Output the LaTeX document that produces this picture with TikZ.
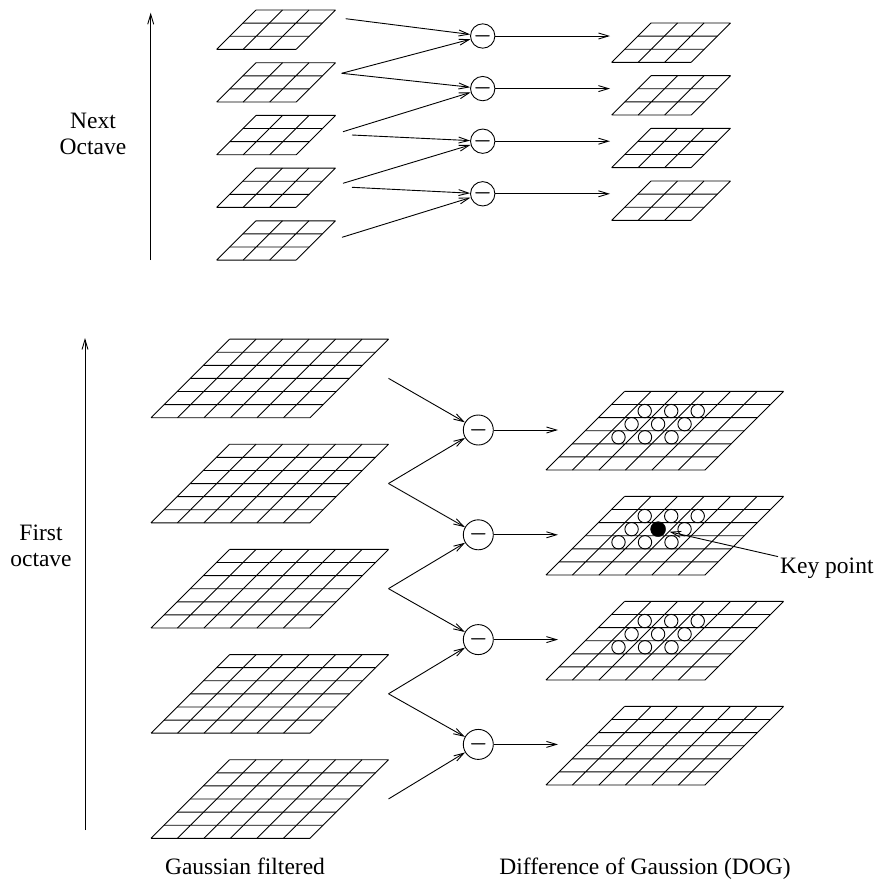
\documentclass[tikz,border=0pt]{standalone}
\usepackage{fontspec}
\setmainfont{Liberation Serif}
\usetikzlibrary{arrows.meta, positioning}
\tikzset{
  sift/line/.style={line width=0.9pt, draw=black},
  sift/arr/.style={-{Straight Barb[length=10pt,width=6pt]}, line width=0.9pt},
  sift/op/.style={circle, draw, line width=0.9pt, inner sep=0pt,
    minimum size=30pt, font=\fontsize{20}{20}\selectfont\boldmath},
  sift/opS/.style={sift/op, minimum size=20pt},
  sift/key/.style={circle, draw, fill=black, inner sep=0pt, minimum size=15pt},
  sift/ring/.style={line width=0.9pt},
  sift/lbl/.style={font=\fontsize{23.5}{26}\selectfont, align=center, inner sep=2pt},
  sift/cell/.style={x={(26.5pt,0pt)}, y={(13.1pt,13.1pt)}},
  pics/sift grid/.style={code={
    \begin{scope}[sift/cell]
      \foreach \k in {0,...,#1}
        \draw[sift/line] (\k,0) -- (\k,#1) (0,\k) -- (#1,\k);
    \end{scope}}}
}

\begin{document}
\begin{tikzpicture}[x=1pt, y=-1pt]
  \useasboundingbox (0,0) rectangle (881,879);

  % next octave
  \foreach \k in {0,...,4} \pic at (216.7, 49.3+52.7*\k) {sift grid=3};
  \foreach \k in {0,...,3} \pic at (611.7, 62.3+52.67*\k) {sift grid=3};
  \node[sift/opS] at (482.7, 36.0)  (n1) {$-$};
  \node[sift/opS] at (482.7, 88.6)  (n2) {$-$};
  \node[sift/opS] at (482.7, 141.2) (n3) {$-$};
  \node[sift/opS] at (482.7, 193.8) (n4) {$-$};
  \coordinate (na1)  at (345.7, 18.7);
  \coordinate (na2)  at (341.7, 73.3);
  \coordinate (na3)  at (343.0, 131.7);
  \coordinate (na3b) at (352.0, 135.0);
  \coordinate (na4)  at (343.0, 183.3);
  \coordinate (na4b) at (352.0, 187.3);
  \coordinate (na5)  at (342.0, 237.3);
  \coordinate (ntip) at (610, 0);
  \draw[sift/arr] (na1)  -- (n1);
  \draw[sift/arr] (na2)  -- (n1);
  \draw[sift/arr] (na2)  -- (n2);
  \draw[sift/arr] (na3)  -- (n2);
  \draw[sift/arr] (na3b) -- (n3);
  \draw[sift/arr] (na4)  -- (n3);
  \draw[sift/arr] (na4b) -- (n4);
  \draw[sift/arr] (na5)  -- (n4);
  \foreach \k in {1,...,4} \draw[sift/arr] (n\k) -- (n\k -| ntip);
  \coordinate (nlo) at (150.7, 260);
  \coordinate (nhi) at (150.7, 12.7);
  \draw[sift/arr] (nlo) -- (nhi);
  \node[sift/lbl] at (93, 134) (nlbl) {Next\\Octave};

  % first octave
  \foreach \k in {0,...,4} \pic at (151, 417.7+105.15*\k) {sift grid=6};
  \foreach \k in {0,...,3} \pic at (546, 470+105*\k) {sift grid=6};
  \node[sift/op] at (478.3, 430.0) (f1) {$-$};
  \node[sift/op] at (478.3, 534.8) (f2) {$-$};
  \node[sift/op] at (478.3, 639.6) (f3) {$-$};
  \node[sift/op] at (478.3, 744.4) (f4) {$-$};
  \foreach \k in {1,...,5} \coordinate (fa\k) at (388.5, 273.2+105.15*\k);
  \coordinate (ftip) at (558, 0);
  \foreach \k [evaluate=\k as \j using int(\k+1)] in {1,...,4} {
    \draw[sift/arr] (fa\k) -- (f\k);
    \draw[sift/arr] (fa\j) -- (f\k);
    \draw[sift/arr] (f\k) -- (f\k -| ftip);
  }
  % 3x3 neighbourhoods on the DOG levels
  \foreach \y in {470, 680} {
    \begin{scope}[shift={(546,\y)}, sift/cell]
      \foreach \u in {1,2,3} \foreach \v in {2,3,4}
        \draw[sift/ring] (\u+.5,\v+.5) circle[radius=6.7pt];
    \end{scope}
  }
  \begin{scope}[shift={(546,575)}, sift/cell]
    \foreach \u/\v in {1/2,2/2,3/2,1/3,3/3,1/4,2/4,3/4}
      \draw[sift/ring] (\u+.5,\v+.5) circle[radius=6.7pt];
    \node[sift/key] at (2.5,3.5) (kp) {};
  \end{scope}
  \node[sift/lbl, anchor=base west] at (778, 573) (kplbl) {Key point};
  \draw[sift/arr, shorten >=4pt] (kplbl) -- (kp);
  \coordinate (flo) at (85, 830);
  \coordinate (fhi) at (85, 338);
  \draw[sift/arr] (flo) -- (fhi);
  \node[sift/lbl] at (41, 546) (flbl) {First\\octave};
  \node[sift/lbl, anchor=base] at (245, 874) (glbl) {Gaussian filtered};
  \node[sift/lbl, anchor=base] at (645, 874) (dlbl) {Difference of Gaussion (DOG)};
\end{tikzpicture}
\end{document}
